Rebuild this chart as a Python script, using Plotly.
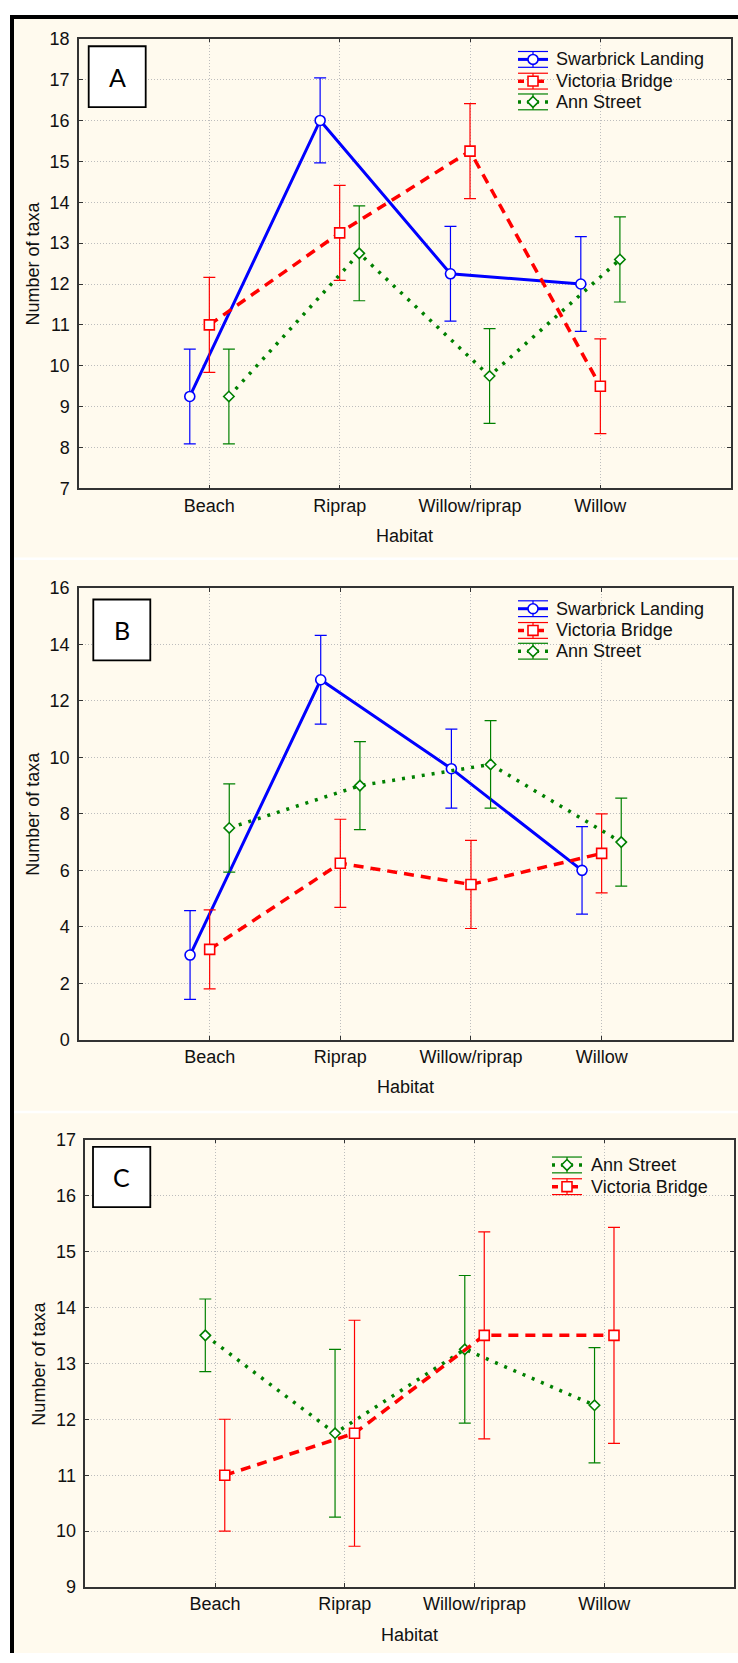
import plotly.graph_objects as go

W, H = 738, 1663

categories = ["Beach", "Riprap", "Willow/riprap", "Willow"]

# Panel A
A_swarbrick = [9.25, 16.0, 12.25, 12.0]
A_swarbrick_err = [1.16, 1.04, 1.16, 1.16]
A_victoria = [11.0, 13.25, 15.25, 9.5]
A_victoria_err = [1.16, 1.16, 1.16, 1.16]
A_ann = [9.25, 12.75, 9.75, 12.6]
A_ann_err = [1.16, 1.16, 1.16, 1.04]

# Panel B
B_swarbrick = [3.0, 12.75, 9.6, 6.0]
B_swarbrick_err = [1.57, 1.57, 1.4, 1.55]
B_victoria = [3.2, 6.25, 5.5, 6.6]
B_victoria_err = [1.4, 1.56, 1.56, 1.4]
B_ann = [7.5, 9.0, 9.75, 7.0]
B_ann_err = [1.56, 1.56, 1.55, 1.56]

# Panel C
C_ann = [13.5, 11.75, 13.25, 12.25]
C_ann_err = [0.65, 1.5, 1.32, 1.03]
C_victoria = [11.0, 11.75, 13.5, 13.5]
C_victoria_err = [1.0, 2.02, 1.85, 1.93]

BLUE, RED, GREEN = "#0000FF", "#FF0000", "#008000"
CREAM = "#FFFAEE"
FONT = "Liberation Sans, Arial, sans-serif"

def X(px):
    return px / W

def Y(py):
    return 1 - py / H

styles = {
    "Swarbrick Landing": dict(color=BLUE, dash="solid", width=3, symbol="circle", size=10),
    "Victoria Bridge": dict(color=RED, dash="10px,7px", width=3.5, symbol="square", size=10),
    "Ann Street": dict(color=GREEN, dash="3px,7px", width=3.5, symbol="diamond", size=8),
}

fig = go.Figure()

def add_series(name, vals, errs, offset, xa, ya):
    s = styles[name]
    fig.add_trace(go.Scatter(
        x=[i + offset for i in range(len(vals))], y=vals,
        mode="lines+markers", name=name, showlegend=False,
        line=dict(color=s["color"], width=s["width"], dash=s["dash"]),
        marker=dict(symbol=s["symbol"], size=s["size"], color="white",
                    line=dict(color=s["color"], width=1.6)),
        error_y=dict(type="data", array=errs, visible=True, color=s["color"],
                     thickness=1.2, width=6),
        xaxis=xa, yaxis=ya, cliponaxis=False,
    ))

add_series("Swarbrick Landing", A_swarbrick, A_swarbrick_err, -0.15, "x", "y")
add_series("Victoria Bridge", A_victoria, A_victoria_err, 0.0, "x", "y")
add_series("Ann Street", A_ann, A_ann_err, 0.15, "x", "y")

add_series("Swarbrick Landing", B_swarbrick, B_swarbrick_err, -0.15, "x2", "y2")
add_series("Victoria Bridge", B_victoria, B_victoria_err, 0.0, "x2", "y2")
add_series("Ann Street", B_ann, B_ann_err, 0.15, "x2", "y2")

add_series("Ann Street", C_ann, C_ann_err, -0.075, "x3", "y3")
add_series("Victoria Bridge", C_victoria, C_victoria_err, 0.075, "x3", "y3")

panels = [
    dict(x=(79, 730.7), y=(29, 484.3), rng=[7, 18], dtick=1),
    dict(x=(79, 732.3), y=(585, 1042.3), rng=[0, 16], dtick=2),
    dict(x=(85.3, 734), y=(1143.3, 1596.3), rng=[9, 17], dtick=1),
]

axcommon = dict(showline=True, linecolor="#333333", linewidth=1.5, mirror="allticks",
                ticks="inside", ticklen=4, tickcolor="#333333", tickwidth=1,
                showgrid=True, gridcolor="#bdbdbd", griddash="1px,2px", gridwidth=1,
                zeroline=False, tickfont=dict(family=FONT, size=18, color="#111111"))

layout = dict(width=W, height=H, margin=dict(l=0, r=0, t=0, b=0),
              paper_bgcolor="white", plot_bgcolor="white", showlegend=False)

for k, p in enumerate(panels):
    sx = "" if k == 0 else str(k + 1)
    layout["xaxis" + sx] = dict(axcommon, domain=[X(p["x"][0]), X(p["x"][1])],
                                range=[-1, 4], tickvals=[0, 1, 2, 3], ticktext=categories,
                                anchor="y" + sx)
    layout["yaxis" + sx] = dict(axcommon, domain=[Y(p["y"][1]), Y(p["y"][0])],
                                range=p["rng"], dtick=p["dtick"], anchor="x" + sx,
                                ticklabelstandoff=4)

fig.update_layout(**layout)

shapes = []
annotations = []

# background and frame
shapes.append(dict(type="rect", xref="paper", yref="paper", x0=X(14), x1=X(738), y0=Y(1663), y1=Y(9),
                   fillcolor=CREAM, line=dict(width=0), layer="below"))
shapes.append(dict(type="line", xref="paper", yref="paper", x0=X(10), x1=X(738), y0=Y(7), y1=Y(7),
                   line=dict(color="black", width=4)))
shapes.append(dict(type="line", xref="paper", yref="paper", x0=X(12), x1=X(12), y0=Y(5), y1=Y(1663),
                   line=dict(color="black", width=4)))
for sy in (555.5, 1115.5):
    shapes.append(dict(type="line", xref="paper", yref="paper", x0=X(14), x1=X(738), y0=Y(sy), y1=Y(sy),
                       line=dict(color="white", width=2.5)))

# panel label boxes
boxes = [("A", 88.7, 145.7, 36.7, 98.3), ("B", 93.3, 150.3, 596.7, 658.3), ("C", 93, 150.3, 1150.7, 1211.7)]
for lab, x0, x1, y0, y1 in boxes:
    shapes.append(dict(type="rect", xref="paper", yref="paper", x0=X(x0), x1=X(x1), y0=Y(y1), y1=Y(y0),
                       fillcolor="white", line=dict(color="black", width=1.8)))
    annotations.append(dict(text=lab, xref="paper", yref="paper", x=X((x0 + x1) / 2), y=Y((y0 + y1) / 2),
                            xanchor="center", yanchor="middle", showarrow=False,
                            font=dict(family="Lato, Carlito, sans-serif", size=25, color="black")))

# axis titles
for p in panels:
    annotations.append(dict(text="Number of taxa", xref="paper", yref="paper",
                            x=X(p["x"][0] - 46), y=Y((p["y"][0] + p["y"][1]) / 2),
                            xanchor="center", yanchor="middle", textangle=-90, showarrow=False,
                            font=dict(family=FONT, size=18, color="#111111")))
    annotations.append(dict(text="Habitat", xref="paper", yref="paper",
                            x=X((p["x"][0] + p["x"][1]) / 2), y=Y(p["y"][1] + 48),
                            xanchor="center", yanchor="middle", showarrow=False,
                            font=dict(family=FONT, size=18, color="#111111")))

# manual legends (with error-bar glyphs)
def legend_entry(name, cx, cy, textx):
    s = styles[name]
    half = 15
    for dy in (-8, 8):
        shapes.append(dict(type="line", xref="paper", yref="paper", x0=X(cx - half), x1=X(cx + half),
                           y0=Y(cy + dy), y1=Y(cy + dy), line=dict(color=s["color"], width=1.2)))
    shapes.append(dict(type="line", xref="paper", yref="paper", x0=X(cx), x1=X(cx),
                       y0=Y(cy - 8), y1=Y(cy + 8), line=dict(color=s["color"], width=1.2)))
    shapes.append(dict(type="line", xref="paper", yref="paper", x0=X(cx - half), x1=X(cx + half),
                       y0=Y(cy), y1=Y(cy),
                       line=dict(color=s["color"], width=s["width"],
                                 dash="solid" if s["dash"] == "solid" else ("6px,4px" if "10" in s["dash"] else "3px,6px"))))
    r = 5
    if s["symbol"] == "circle":
        shapes.append(dict(type="circle", xref="paper", yref="paper", x0=X(cx - r), x1=X(cx + r),
                           y0=Y(cy + r), y1=Y(cy - r), fillcolor="white", line=dict(color=s["color"], width=1.6)))
    elif s["symbol"] == "square":
        shapes.append(dict(type="rect", xref="paper", yref="paper", x0=X(cx - r), x1=X(cx + r),
                           y0=Y(cy + r), y1=Y(cy - r), fillcolor="white", line=dict(color=s["color"], width=1.6)))
    else:
        rd = 5.5
        path = "M{},{} L{},{} L{},{} L{},{} Z".format(X(cx), Y(cy - rd), X(cx + rd), Y(cy), X(cx), Y(cy + rd), X(cx - rd), Y(cy))
        shapes.append(dict(type="path", xref="paper", yref="paper", path=path, fillcolor="white",
                           line=dict(color=s["color"], width=1.6)))
    annotations.append(dict(text=name, xref="paper", yref="paper", x=X(textx), y=Y(cy),
                            xanchor="left", yanchor="middle", showarrow=False,
                            font=dict(family=FONT, size=18, color="#111111")))

for name, cy in zip(["Swarbrick Landing", "Victoria Bridge", "Ann Street"], [50, 72, 93]):
    legend_entry(name, 533, cy, 554)
for name, cy in zip(["Swarbrick Landing", "Victoria Bridge", "Ann Street"], [606, 628, 649]):
    legend_entry(name, 533, cy, 554)
for name, cy in zip(["Ann Street", "Victoria Bridge"], [1169, 1191]):
    legend_entry(name, 567, cy, 589)

fig.update_layout(shapes=shapes, annotations=annotations)
fig.write_html("out.html")
